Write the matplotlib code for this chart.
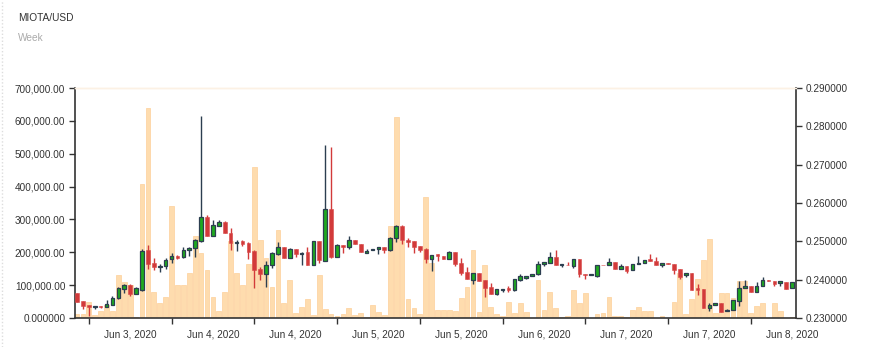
import matplotlib
matplotlib.use("Agg")
import matplotlib.pyplot as plt
from matplotlib.ticker import FixedLocator, FuncFormatter
from matplotlib.lines import Line2D

plt.rcParams['font.family'] = ['Liberation Sans', 'DejaVu Sans']

# hourly-ish candles, MIOTA/USD
opens = [0.2364, 0.2344, 0.2334, 0.2328, 0.2331, 0.2330, 0.2335, 0.2351, 0.2376, 0.2386,
         0.2363, 0.2374, 0.2477, 0.2443, 0.2434, 0.2435, 0.2453, 0.2463, 0.2458, 0.2477,
         0.2482, 0.2501, 0.2564, 0.2513, 0.2541, 0.2551, 0.2523, 0.2496, 0.2500, 0.2496,
         0.2476, 0.2429, 0.2415, 0.2437, 0.2468, 0.2484, 0.2457, 0.2481, 0.2466, 0.2471,
         0.2438, 0.2500, 0.2450, 0.2585, 0.2460, 0.2490, 0.2484, 0.2503, 0.2494, 0.2469,
         0.2478, 0.2479, 0.2484, 0.2477, 0.2508, 0.2540, 0.2504, 0.2501, 0.2489, 0.2480,
         0.2453, 0.2466, 0.2463, 0.2453, 0.2471, 0.2444, 0.2420, 0.2400, 0.2418, 0.2399,
         0.2381, 0.2362, 0.2373, 0.2377, 0.2372, 0.2400, 0.2405, 0.2409, 0.2414, 0.2442,
         0.2444, 0.2459, 0.2437, 0.2439, 0.2436, 0.2455, 0.2416, 0.2411, 0.2410, 0.2439,
         0.2437, 0.2447, 0.2428, 0.2436, 0.2424, 0.2441, 0.2444, 0.2454, 0.2449, 0.2437,
         0.2444, 0.2442, 0.2427, 0.2412, 0.2417, 0.2377, 0.2375, 0.2327, 0.2333, 0.2340,
         0.2317, 0.2320, 0.2345, 0.2377, 0.2383, 0.2369, 0.2384, 0.2400, 0.2397, 0.2391,
         0.2395, 0.2377]
closes = [0.2343, 0.2332, 0.2330, 0.2331, 0.2328, 0.2337, 0.2353, 0.2377, 0.2386, 0.2362,
          0.2377, 0.2476, 0.2441, 0.2433, 0.2436, 0.2452, 0.2462, 0.2457, 0.2478, 0.2482,
          0.2503, 0.2564, 0.2513, 0.2543, 0.2551, 0.2522, 0.2496, 0.2499, 0.2494, 0.2471,
          0.2426, 0.2414, 0.2438, 0.2470, 0.2485, 0.2457, 0.2481, 0.2468, 0.2470, 0.2438,
          0.2500, 0.2451, 0.2585, 0.2459, 0.2490, 0.2484, 0.2503, 0.2492, 0.2471, 0.2476,
          0.2481, 0.2484, 0.2478, 0.2510, 0.2539, 0.2503, 0.2499, 0.2486, 0.2478, 0.2453,
          0.2465, 0.2461, 0.2453, 0.2471, 0.2442, 0.2418, 0.2401, 0.2417, 0.2397, 0.2378,
          0.2362, 0.2375, 0.2376, 0.2373, 0.2403, 0.2409, 0.2409, 0.2416, 0.2441, 0.2445,
          0.2459, 0.2437, 0.2440, 0.2437, 0.2454, 0.2415, 0.2411, 0.2414, 0.2437, 0.2437,
          0.2446, 0.2428, 0.2435, 0.2423, 0.2442, 0.2444, 0.2452, 0.2449, 0.2437, 0.2444,
          0.2440, 0.2426, 0.2408, 0.2417, 0.2373, 0.2372, 0.2327, 0.2335, 0.2340, 0.2315,
          0.2321, 0.2347, 0.2379, 0.2383, 0.2369, 0.2384, 0.2399, 0.2396, 0.2390, 0.2397,
          0.2376, 0.2393]
highs = [0.2364, 0.2344, 0.2334, 0.2332, 0.2331, 0.2348, 0.2357, 0.2380, 0.2388, 0.2388,
         0.2382, 0.2479, 0.2491, 0.2456, 0.2442, 0.2456, 0.2470, 0.2465, 0.2484, 0.2484,
         0.2506, 0.2826, 0.2568, 0.2555, 0.2555, 0.2553, 0.2535, 0.2503, 0.2504, 0.2497,
         0.2478, 0.2433, 0.2449, 0.2473, 0.2498, 0.2486, 0.2482, 0.2481, 0.2471, 0.2484,
         0.2501, 0.2500, 0.2752, 0.2745, 0.2492, 0.2490, 0.2515, 0.2503, 0.2494, 0.2479,
         0.2481, 0.2484, 0.2484, 0.2511, 0.2542, 0.2542, 0.2509, 0.2501, 0.2489, 0.2482,
         0.2465, 0.2467, 0.2463, 0.2474, 0.2471, 0.2457, 0.2434, 0.2418, 0.2418, 0.2399,
         0.2392, 0.2375, 0.2376, 0.2383, 0.2403, 0.2414, 0.2409, 0.2416, 0.2448, 0.2445,
         0.2472, 0.2477, 0.2440, 0.2446, 0.2454, 0.2455, 0.2416, 0.2414, 0.2437, 0.2439,
         0.2456, 0.2447, 0.2440, 0.2436, 0.2442, 0.2462, 0.2452, 0.2467, 0.2458, 0.2444,
         0.2444, 0.2442, 0.2427, 0.2417, 0.2417, 0.2388, 0.2375, 0.2339, 0.2340, 0.2340,
         0.2324, 0.2347, 0.2396, 0.2399, 0.2383, 0.2393, 0.2408, 0.2400, 0.2397, 0.2397,
         0.2395, 0.2393]
lows = [0.2343, 0.2323, 0.2304, 0.2324, 0.2326, 0.2330, 0.2333, 0.2349, 0.2365, 0.2358,
        0.2362, 0.2371, 0.2428, 0.2425, 0.2420, 0.2428, 0.2444, 0.2454, 0.2457, 0.2463,
        0.2459, 0.2499, 0.2513, 0.2513, 0.2539, 0.2521, 0.2477, 0.2474, 0.2489, 0.2454,
        0.2377, 0.2399, 0.2380, 0.2431, 0.2465, 0.2456, 0.2456, 0.2458, 0.2437, 0.2438,
        0.2437, 0.2444, 0.2448, 0.2457, 0.2458, 0.2470, 0.2481, 0.2492, 0.2471, 0.2469,
        0.2478, 0.2467, 0.2470, 0.2476, 0.2499, 0.2493, 0.2485, 0.2469, 0.2471, 0.2443,
        0.2423, 0.2448, 0.2453, 0.2453, 0.2435, 0.2411, 0.2401, 0.2389, 0.2397, 0.2354,
        0.2362, 0.2359, 0.2367, 0.2367, 0.2370, 0.2396, 0.2402, 0.2409, 0.2412, 0.2436,
        0.2444, 0.2437, 0.2434, 0.2437, 0.2431, 0.2407, 0.2402, 0.2411, 0.2407, 0.2437,
        0.2437, 0.2428, 0.2428, 0.2417, 0.2424, 0.2441, 0.2444, 0.2449, 0.2437, 0.2434,
        0.2440, 0.2415, 0.2401, 0.2407, 0.2373, 0.2360, 0.2327, 0.2319, 0.2333, 0.2315,
        0.2317, 0.2320, 0.2331, 0.2377, 0.2369, 0.2369, 0.2384, 0.2396, 0.2384, 0.2384,
        0.2376, 0.2377]
volumes = [11, 13, 48, 10, 21, 40, 22, 132, 110, 100,
           2, 408, 639, 80, 47, 65, 342, 99, 101, 138,
           249, 197, 147, 63, 22, 79, 235, 136, 101, 164,
           460, 238, 184, 95, 269, 45, 117, 14, 33, 58,
           8, 130, 28, 13, 7, 12, 31, 10, 16, 3,
           41, 17, 10, 281, 612, 234, 59, 30, 13, 368,
           167, 25, 23, 25, 22, 62, 95, 207, 17, 160,
           34, 13, 7, 49, 14, 45, 18, 1, 115, 24,
           79, 31, 3, 7, 84, 45, 77, 1, 11, 14,
           64, 5, 5, 2, 23, 32, 20, 22, 1, 6,
           1, 50, 136, 13, 58, 119, 178, 239, 16, 75,
           75, 62, 114, 114, 14, 37, 45, 1, 45, 21,
           1, 3]
volumes = [v * 1000 for v in volumes]

tick_idx = [2, 16, 30, 44, 58, 72, 86, 100, 114]
tick_labels = ["Jun 3, 2020", "Jun 4, 2020", "Jun 4, 2020", "Jun 5, 2020", "Jun 5, 2020",
               "Jun 6, 2020", "Jun 7, 2020", "Jun 7, 2020", "Jun 8, 2020"]

UP = '#1faa1f'
UP_EDGE = '#2c3e50'
DOWN = '#d23a3a'
TXT = '#333333'

W, H = 872, 347
fig = plt.figure(figsize=(W / 100, H / 100), dpi=100)
fig.patch.set_facecolor('white')

ax = fig.add_axes([75 / W, 1 - 318 / H, (796 - 75) / W, (318 - 88) / H])
ax2 = ax.twinx()

x = list(range(len(opens)))
ax.bar(x, volumes, width=0.8, color='#fedcae', edgecolor='#fdd5a4', linewidth=0.6, zorder=1)

for i in x:
    o, c, h, l = opens[i], closes[i], highs[i], lows[i]
    up = c >= o
    wick = UP_EDGE if up else DOWN
    ax2.vlines(i, l, h, color=wick, linewidth=1.0, zorder=2)
    bottom = min(o, c)
    height = max(abs(c - o), 0.00012)
    ax2.bar(i, height, bottom=bottom, width=0.62,
            color=UP if up else DOWN,
            edgecolor=UP_EDGE if up else '#d84848',
            linewidth=0.9 if up else 0.4, zorder=3)

ax.set_xlim(-0.34, 121.66)
ax.set_ylim(0, 700000)
ax2.set_ylim(0.23, 0.29)

ax.set_yticks(range(0, 700001, 100000))
ax.yaxis.set_major_formatter(FuncFormatter(
    lambda v, p: "0.000000" if v == 0 else "{:,.2f}".format(v)))
ax2.set_yticks([0.23 + 0.01 * k for k in range(7)])
ax2.yaxis.set_major_formatter(FuncFormatter(lambda v, p: "{:.6f}".format(v)))

# tick marks sit between days, labels centred in each interval
ax.xaxis.set_major_locator(FixedLocator(tick_idx))
ax.xaxis.set_major_formatter(FuncFormatter(lambda v, p: ""))
ax.xaxis.set_minor_locator(FixedLocator([t + 7 for t in tick_idx]))
ax.set_xticklabels(tick_labels, minor=True)
ax.tick_params(axis='x', which='major', length=4, width=1, color=TXT)
ax.tick_params(axis='x', which='minor', length=0, pad=8.5, labelsize=7.2, labelcolor=TXT)
ax.tick_params(axis='y', length=4, width=1, color=TXT, pad=3, labelsize=7.2, labelcolor=TXT)
ax2.tick_params(axis='y', length=4, width=1, color=TXT, pad=3, labelsize=7.2, labelcolor=TXT)

for a in (ax, ax2):
    a.spines['top'].set_color('#fcf1e4')
    a.spines['top'].set_linewidth(1.0)
ax.spines['left'].set_color(TXT)
ax.spines['bottom'].set_color(TXT)
ax.spines['right'].set_visible(False)
ax2.spines['left'].set_visible(False)
ax2.spines['bottom'].set_visible(False)
ax2.spines['right'].set_color(TXT)
for s in ('left', 'bottom'):
    ax.spines[s].set_linewidth(1.2)
ax2.spines['right'].set_linewidth(1.2)

fig.text(18 / W, 1 - 18 / H, "MIOTA/USD", fontsize=7.3, color=TXT, va='center', ha='left')
fig.text(18 / W, 1 - 38 / H, "Week", fontsize=7.3, color='#aaaaaa', va='center', ha='left')

fig.add_artist(Line2D([1.5 / W, 1.5 / W], [0, 1], transform=fig.transFigure,
                      color='#dddddd', linewidth=1, linestyle=(0, (1, 1.5))))

fig.savefig("out.png", dpi=100)
